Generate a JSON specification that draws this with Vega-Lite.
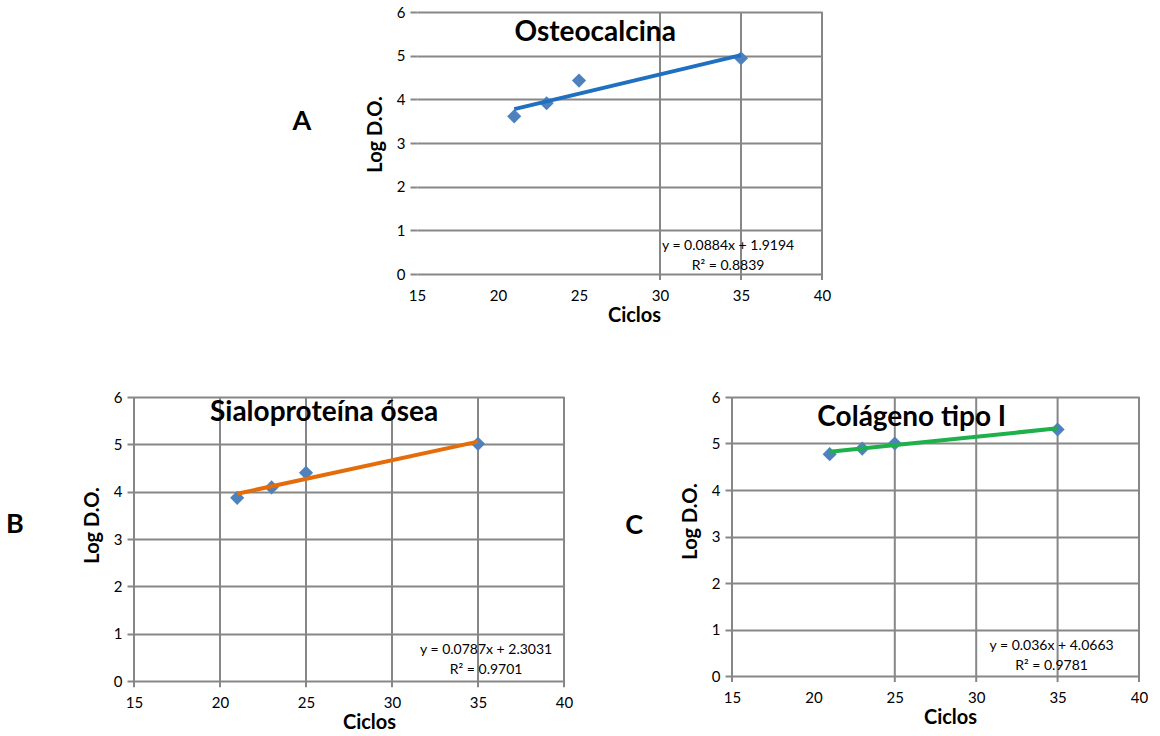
{
  "$schema": "https://vega.github.io/schema/vega-lite/v6.json",
  "background": "white",
  "padding": {"left": 6, "top": 5, "right": 0, "bottom": 0},
  "config": {
    "font": "Lato",
    "view": {"stroke": null},
    "axis": {
      "labelFont": "Lato", "labelFontSize": 15, "labelColor": "#000000",
      "titleFont": "Lato", "titleFontSize": 20, "titleFontWeight": "bold", "titleColor": "#000000",
      "gridColor": "#878787", "gridWidth": 2, "gridOpacity": 1,
      "tickColor": "#878787", "tickWidth": 2, "domain": false,
      "labelFlush": false, "labelOverlap": false, "labelBound": false
    },
    "axisX": {"grid": false, "ticks": false, "labelPadding": 14, "titlePadding": 2},
    "axisY": {"grid": true, "ticks": true, "tickSize": 7, "labelPadding": 5, "titlePadding": 11}
  },
  "datasets": {
    "points": [
      {"panel": "A", "x": 21, "y": 3.61}, {"panel": "A", "x": 23, "y": 3.91}, {"panel": "A", "x": 25, "y": 4.43}, {"panel": "A", "x": 35, "y": 4.94},
      {"panel": "B", "x": 21, "y": 3.87}, {"panel": "B", "x": 23, "y": 4.09}, {"panel": "B", "x": 25, "y": 4.40}, {"panel": "B", "x": 35, "y": 5.01},
      {"panel": "C", "x": 21, "y": 4.77}, {"panel": "C", "x": 23, "y": 4.89}, {"panel": "C", "x": 25, "y": 5.00}, {"panel": "C", "x": 35, "y": 5.30}
    ],
    "trend": [
      {"panel": "A", "x": 21, "y": 3.776}, {"panel": "A", "x": 35, "y": 5.013},
      {"panel": "B", "x": 21, "y": 3.956}, {"panel": "B", "x": 35, "y": 5.058},
      {"panel": "C", "x": 21, "y": 4.822}, {"panel": "C", "x": 35, "y": 5.326}
    ],
    "grid": [
      {"panel": "A", "x": 30}, {"panel": "A", "x": 35}, {"panel": "A", "x": 40},
      {"panel": "B", "x": 15}, {"panel": "B", "x": 20}, {"panel": "B", "x": 25}, {"panel": "B", "x": 30}, {"panel": "B", "x": 35}, {"panel": "B", "x": 40},
      {"panel": "C", "x": 15}, {"panel": "C", "x": 25}, {"panel": "C", "x": 30}, {"panel": "C", "x": 35}, {"panel": "C", "x": 40}
    ],
    "one": [{"k": 1}]
  },
  "spacing": 65,
  "vconcat": [
    {
      "spacing": 0,
      "hconcat": [
        {"width": 158, "height": 10, "data": {"name": "one"}, "mark": {"type": "text", "text": ""}},
        {
          "width": 405, "height": 262,
          "layer": [
            {"data": {"name": "grid"}, "transform": [{"filter": "datum.panel === 'A'"}],
             "mark": {"type": "rule", "color": "#878787", "strokeWidth": 2},
             "encoding": {
               "x": {"field": "x", "type": "quantitative", "scale": {"domain": [15, 40], "nice": false, "zero": false}, "axis": {"title": "Ciclos", "values": [15, 20, 25, 30, 35, 40], "titleX": 217}},
               "y": {"datum": -0.14, "type": "quantitative", "scale": {"domain": [0, 6], "nice": false, "zero": false}, "axis": {"title": "Log D.O.", "values": [0, 1, 2, 3, 4, 5, 6], "titleY": 122}},
               "y2": {"datum": 6}}},
            {"data": {"name": "points"}, "transform": [{"filter": "datum.panel === 'A'"}],
             "mark": {"type": "point", "shape": "diamond", "filled": true, "size": 200, "color": "#4F81BD", "opacity": 1},
             "encoding": {
               "x": {"field": "x", "type": "quantitative", "scale": {"domain": [15, 40], "nice": false, "zero": false}, "axis": {"title": "Ciclos", "values": [15, 20, 25, 30, 35, 40], "titleX": 217}},
               "y": {"field": "y", "type": "quantitative", "scale": {"domain": [0, 6], "nice": false, "zero": false}, "axis": {"title": "Log D.O.", "values": [0, 1, 2, 3, 4, 5, 6], "titleY": 122}}}},
            {"data": {"name": "trend"}, "transform": [{"filter": "datum.panel === 'A'"}],
             "mark": {"type": "line", "color": "#1F70C1", "strokeWidth": 4},
             "encoding": {
               "x": {"field": "x", "type": "quantitative", "scale": {"domain": [15, 40], "nice": false, "zero": false}, "axis": {"title": "Ciclos", "values": [15, 20, 25, 30, 35, 40], "titleX": 217}},
               "y": {"field": "y", "type": "quantitative", "scale": {"domain": [0, 6], "nice": false, "zero": false}, "axis": {"title": "Log D.O.", "values": [0, 1, 2, 3, 4, 5, 6], "titleY": 122}}}},
            {"data": {"name": "one"},
             "mark": {"type": "text", "font": "Lato", "fontSize": 28, "fontWeight": "bold", "color": "#000000", "align": "center", "baseline": "middle"},
             "encoding": {
               "x": {"datum": 26.0, "type": "quantitative", "scale": {"domain": [15, 40], "nice": false, "zero": false}, "axis": {"title": "Ciclos", "values": [15, 20, 25, 30, 35, 40], "titleX": 217}},
               "y": {"datum": 5.51, "type": "quantitative", "scale": {"domain": [0, 6], "nice": false, "zero": false}, "axis": {"title": "Log D.O.", "values": [0, 1, 2, 3, 4, 5, 6], "titleY": 122}},
               "text": {"value": "Osteocalcina"}}},
            {"data": {"name": "one"},
             "mark": {"type": "text", "font": "Lato", "fontSize": 14, "color": "#000000", "align": "center", "baseline": "middle", "lineHeight": 20},
             "encoding": {
               "x": {"datum": 34.2, "type": "quantitative", "scale": {"domain": [15, 40], "nice": false, "zero": false}, "axis": {"title": "Ciclos", "values": [15, 20, 25, 30, 35, 40], "titleX": 217}},
               "y": {"datum": 0.64, "type": "quantitative", "scale": {"domain": [0, 6], "nice": false, "zero": false}, "axis": {"title": "Log D.O.", "values": [0, 1, 2, 3, 4, 5, 6], "titleY": 122}},
               "text": {"value": ["y = 0.0884x + 1.9194", "R² = 0.8839"]}}},
            {"data": {"name": "one"},
             "mark": {"type": "text", "font": "Lato", "fontSize": 27, "fontWeight": "bold", "color": "#000000", "align": "center", "baseline": "middle"},
             "encoding": {
               "x": {"datum": 7.9, "type": "quantitative", "scale": {"domain": [15, 40], "nice": false, "zero": false}, "axis": {"title": "Ciclos", "values": [15, 20, 25, 30, 35, 40], "titleX": 217}},
               "y": {"datum": 3.48, "type": "quantitative", "scale": {"domain": [0, 6], "nice": false, "zero": false}, "axis": {"title": "Log D.O.", "values": [0, 1, 2, 3, 4, 5, 6], "titleY": 122}},
               "text": {"value": "A"}}}
          ]
        }
      ]
    },
    {
      "spacing": 52,
      "hconcat": [
        {
          "width": 430, "height": 284,
          "layer": [
            {"data": {"name": "grid"}, "transform": [{"filter": "datum.panel === 'B'"}],
             "mark": {"type": "rule", "color": "#878787", "strokeWidth": 2},
             "encoding": {
               "x": {"field": "x", "type": "quantitative", "scale": {"domain": [15, 40], "nice": false, "zero": false}, "axis": {"title": "Ciclos", "values": [15, 20, 25, 30, 35, 40], "titleX": 235}},
               "y": {"datum": -0.13, "type": "quantitative", "scale": {"domain": [0, 6], "nice": false, "zero": false}, "axis": {"title": "Log D.O.", "values": [0, 1, 2, 3, 4, 5, 6], "titleY": 128}},
               "y2": {"datum": 6}}},
            {"data": {"name": "points"}, "transform": [{"filter": "datum.panel === 'B'"}],
             "mark": {"type": "point", "shape": "diamond", "filled": true, "size": 200, "color": "#4F81BD", "opacity": 1},
             "encoding": {
               "x": {"field": "x", "type": "quantitative", "scale": {"domain": [15, 40], "nice": false, "zero": false}, "axis": {"title": "Ciclos", "values": [15, 20, 25, 30, 35, 40], "titleX": 235}},
               "y": {"field": "y", "type": "quantitative", "scale": {"domain": [0, 6], "nice": false, "zero": false}, "axis": {"title": "Log D.O.", "values": [0, 1, 2, 3, 4, 5, 6], "titleY": 128}}}},
            {"data": {"name": "trend"}, "transform": [{"filter": "datum.panel === 'B'"}],
             "mark": {"type": "line", "color": "#E46C0A", "strokeWidth": 4},
             "encoding": {
               "x": {"field": "x", "type": "quantitative", "scale": {"domain": [15, 40], "nice": false, "zero": false}, "axis": {"title": "Ciclos", "values": [15, 20, 25, 30, 35, 40], "titleX": 235}},
               "y": {"field": "y", "type": "quantitative", "scale": {"domain": [0, 6], "nice": false, "zero": false}, "axis": {"title": "Log D.O.", "values": [0, 1, 2, 3, 4, 5, 6], "titleY": 128}}}},
            {"data": {"name": "one"},
             "mark": {"type": "text", "font": "Lato", "fontSize": 28, "fontWeight": "bold", "color": "#000000", "align": "center", "baseline": "middle"},
             "encoding": {
               "x": {"datum": 26.05, "type": "quantitative", "scale": {"domain": [15, 40], "nice": false, "zero": false}, "axis": {"title": "Ciclos", "values": [15, 20, 25, 30, 35, 40], "titleX": 235}},
               "y": {"datum": 5.66, "type": "quantitative", "scale": {"domain": [0, 6], "nice": false, "zero": false}, "axis": {"title": "Log D.O.", "values": [0, 1, 2, 3, 4, 5, 6], "titleY": 128}},
               "text": {"value": "Sialoproteína ósea"}}},
            {"data": {"name": "one"},
             "mark": {"type": "text", "font": "Lato", "fontSize": 14, "color": "#000000", "align": "center", "baseline": "middle", "lineHeight": 20},
             "encoding": {
               "x": {"datum": 35.47, "type": "quantitative", "scale": {"domain": [15, 40], "nice": false, "zero": false}, "axis": {"title": "Ciclos", "values": [15, 20, 25, 30, 35, 40], "titleX": 235}},
               "y": {"datum": 0.655, "type": "quantitative", "scale": {"domain": [0, 6], "nice": false, "zero": false}, "axis": {"title": "Log D.O.", "values": [0, 1, 2, 3, 4, 5, 6], "titleY": 128}},
               "text": {"value": ["y = 0.0787x + 2.3031", "R² = 0.9701"]}}},
            {"data": {"name": "one"},
             "mark": {"type": "text", "font": "Lato", "fontSize": 27, "fontWeight": "bold", "color": "#000000", "align": "center", "baseline": "middle"},
             "encoding": {
               "x": {"datum": 8.08, "type": "quantitative", "scale": {"domain": [15, 40], "nice": false, "zero": false}, "axis": {"title": "Ciclos", "values": [15, 20, 25, 30, 35, 40], "titleX": 235}},
               "y": {"datum": 3.30, "type": "quantitative", "scale": {"domain": [0, 6], "nice": false, "zero": false}, "axis": {"title": "Log D.O.", "values": [0, 1, 2, 3, 4, 5, 6], "titleY": 128}},
               "text": {"value": "B"}}}
          ]
        },
        {
          "width": 407, "height": 279,
          "layer": [
            {"data": {"name": "grid"}, "transform": [{"filter": "datum.panel === 'C'"}],
             "mark": {"type": "rule", "color": "#878787", "strokeWidth": 2},
             "encoding": {
               "x": {"field": "x", "type": "quantitative", "scale": {"domain": [15, 40], "nice": false, "zero": false}, "axis": {"title": "Ciclos", "values": [15, 20, 25, 30, 35, 40], "titleX": 218}},
               "y": {"datum": -0.13, "type": "quantitative", "scale": {"domain": [0, 6], "nice": false, "zero": false}, "axis": {"title": "Log D.O.", "values": [0, 1, 2, 3, 4, 5, 6], "titleY": 124}},
               "y2": {"datum": 6}}},
            {"data": {"name": "points"}, "transform": [{"filter": "datum.panel === 'C'"}],
             "mark": {"type": "point", "shape": "diamond", "filled": true, "size": 200, "color": "#4F81BD", "opacity": 1},
             "encoding": {
               "x": {"field": "x", "type": "quantitative", "scale": {"domain": [15, 40], "nice": false, "zero": false}, "axis": {"title": "Ciclos", "values": [15, 20, 25, 30, 35, 40], "titleX": 218}},
               "y": {"field": "y", "type": "quantitative", "scale": {"domain": [0, 6], "nice": false, "zero": false}, "axis": {"title": "Log D.O.", "values": [0, 1, 2, 3, 4, 5, 6], "titleY": 124}}}},
            {"data": {"name": "trend"}, "transform": [{"filter": "datum.panel === 'C'"}],
             "mark": {"type": "line", "color": "#1DB04B", "strokeWidth": 4},
             "encoding": {
               "x": {"field": "x", "type": "quantitative", "scale": {"domain": [15, 40], "nice": false, "zero": false}, "axis": {"title": "Ciclos", "values": [15, 20, 25, 30, 35, 40], "titleX": 218}},
               "y": {"field": "y", "type": "quantitative", "scale": {"domain": [0, 6], "nice": false, "zero": false}, "axis": {"title": "Log D.O.", "values": [0, 1, 2, 3, 4, 5, 6], "titleY": 124}}}},
            {"data": {"name": "one"},
             "mark": {"type": "text", "font": "Lato", "fontSize": 28, "fontWeight": "bold", "color": "#000000", "align": "center", "baseline": "middle"},
             "encoding": {
               "x": {"datum": 26.04, "type": "quantitative", "scale": {"domain": [15, 40], "nice": false, "zero": false}, "axis": {"title": "Ciclos", "values": [15, 20, 25, 30, 35, 40], "titleX": 218}},
               "y": {"datum": 5.55, "type": "quantitative", "scale": {"domain": [0, 6], "nice": false, "zero": false}, "axis": {"title": "Log D.O.", "values": [0, 1, 2, 3, 4, 5, 6], "titleY": 124}},
               "text": {"value": "Colágeno tipo I"}}},
            {"data": {"name": "one"},
             "mark": {"type": "text", "font": "Lato", "fontSize": 14, "color": "#000000", "align": "center", "baseline": "middle", "lineHeight": 20},
             "encoding": {
               "x": {"datum": 34.63, "type": "quantitative", "scale": {"domain": [15, 40], "nice": false, "zero": false}, "axis": {"title": "Ciclos", "values": [15, 20, 25, 30, 35, 40], "titleX": 218}},
               "y": {"datum": 0.645, "type": "quantitative", "scale": {"domain": [0, 6], "nice": false, "zero": false}, "axis": {"title": "Log D.O.", "values": [0, 1, 2, 3, 4, 5, 6], "titleY": 124}},
               "text": {"value": ["y = 0.036x + 4.0663", "R² = 0.9781"]}}},
            {"data": {"name": "one"},
             "mark": {"type": "text", "font": "Lato", "fontSize": 27, "fontWeight": "bold", "color": "#000000", "align": "center", "baseline": "middle"},
             "encoding": {
               "x": {"datum": 8.99, "type": "quantitative", "scale": {"domain": [15, 40], "nice": false, "zero": false}, "axis": {"title": "Ciclos", "values": [15, 20, 25, 30, 35, 40], "titleX": 218}},
               "y": {"datum": 3.23, "type": "quantitative", "scale": {"domain": [0, 6], "nice": false, "zero": false}, "axis": {"title": "Log D.O.", "values": [0, 1, 2, 3, 4, 5, 6], "titleY": 124}},
               "text": {"value": "C"}}}
          ]
        }
      ]
    }
  ]
}
